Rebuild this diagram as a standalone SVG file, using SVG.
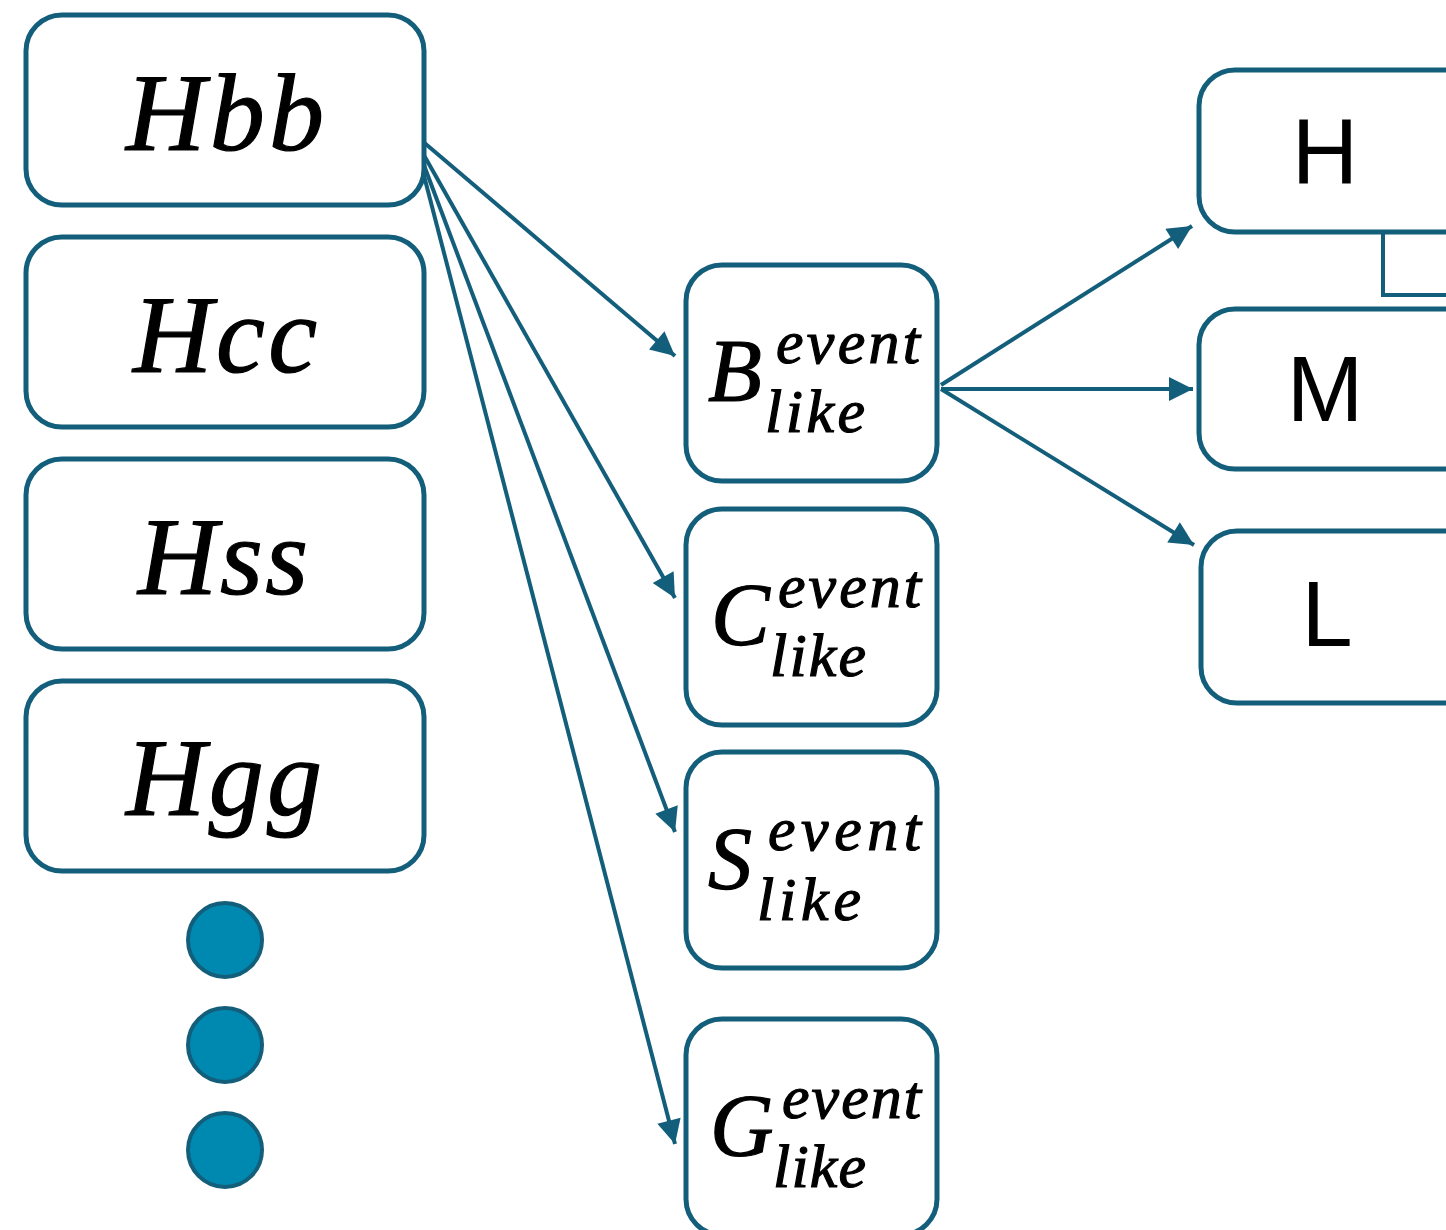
<svg xmlns="http://www.w3.org/2000/svg" width="1446" height="1230" viewBox="0 0 1446 1230">
  <defs>
    <marker id="arrow" viewBox="0 0 10 10" refX="10" refY="5" markerWidth="6.5" markerHeight="6" markerUnits="strokeWidth" orient="auto">
      <path d="M0,0 L10,5 L0,10 z" fill="#135e7a"/>
    </marker>
    <style>
      .box { fill: #ffffff; stroke: #135e7a; stroke-width: 5; }
      .dot { fill: #0089b0; stroke: #135e7a; stroke-width: 4; }
      .edge { fill: none; stroke: #135e7a; stroke-width: 4; }
      .math { font-family: "Liberation Serif", "Times New Roman", serif; font-style: italic; fill: #000; stroke: #000; stroke-width: 1.2; }
      .sans { font-family: "Liberation Sans", Arial, sans-serif; fill: #000; }
    </style>
  </defs>

  <!-- connectors -->
  <g id="connectors">
    <line class="edge" x1="421" y1="140" x2="675" y2="356" marker-end="url(#arrow)"/>
    <line class="edge" x1="421" y1="150" x2="675" y2="598" marker-end="url(#arrow)"/>
    <line class="edge" x1="422" y1="160" x2="675" y2="832" marker-end="url(#arrow)"/>
    <line class="edge" x1="422" y1="168" x2="675" y2="1144" marker-end="url(#arrow)"/>
    <line class="edge" x1="941" y1="385" x2="1192" y2="226" marker-end="url(#arrow)"/>
    <line class="edge" x1="941" y1="389" x2="1193" y2="389" marker-end="url(#arrow)"/>
    <line class="edge" x1="941" y1="389" x2="1194" y2="545" marker-end="url(#arrow)"/>
    <polyline class="edge" points="1383,232 1383,295 1446,295"/>
  </g>

  <!-- left column -->
  <g id="node-hbb">
    <rect class="box" x="26" y="15" width="398" height="190" rx="36"/>
    <text class="math" x="126" y="150" font-size="110" textLength="198" lengthAdjust="spacing">Hbb</text>
  </g>
  <g id="node-hcc">
    <rect class="box" x="26" y="237" width="398" height="190" rx="36"/>
    <text class="math" x="133" y="372" font-size="110" textLength="184" lengthAdjust="spacing">Hcc</text>
  </g>
  <g id="node-hss">
    <rect class="box" x="26" y="459" width="398" height="190" rx="36"/>
    <text class="math" x="138" y="594" font-size="110" textLength="170" lengthAdjust="spacing">Hss</text>
  </g>
  <g id="node-hgg">
    <rect class="box" x="26" y="681" width="398" height="190" rx="36"/>
    <text class="math" x="126" y="815" font-size="110" textLength="196" lengthAdjust="spacing">Hgg</text>
  </g>
  <g id="ellipsis">
    <circle class="dot" cx="225" cy="940" r="37"/>
    <circle class="dot" cx="225" cy="1045" r="37"/>
    <circle class="dot" cx="225" cy="1150" r="37"/>
  </g>

  <!-- middle column -->
  <g id="node-b">
    <rect class="box" x="686" y="265" width="251" height="216" rx="36"/>
    <text class="math" x="708" y="400" font-size="88">B</text>
    <text class="math" x="776" y="363" font-size="62" textLength="144" lengthAdjust="spacing">event</text>
    <text class="math" x="765" y="432" font-size="62" textLength="100" lengthAdjust="spacing">like</text>
  </g>
  <g id="node-c">
    <rect class="box" x="686" y="509" width="251" height="216" rx="36"/>
    <text class="math" x="711" y="644" font-size="88">C</text>
    <text class="math" x="778" y="607" font-size="62" textLength="143" lengthAdjust="spacing">event</text>
    <text class="math" x="770" y="676" font-size="62" textLength="96" lengthAdjust="spacing">like</text>
  </g>
  <g id="node-s">
    <rect class="box" x="686" y="752" width="251" height="216" rx="36"/>
    <text class="math" x="708" y="888" font-size="88">S</text>
    <text class="math" x="768" y="850" font-size="62" textLength="153" lengthAdjust="spacing">event</text>
    <text class="math" x="757" y="920" font-size="62" textLength="104" lengthAdjust="spacing">like</text>
  </g>
  <g id="node-g">
    <rect class="box" x="686" y="1019" width="251" height="216" rx="36"/>
    <text class="math" x="710" y="1155" font-size="88">G</text>
    <text class="math" x="782" y="1118" font-size="62" textLength="139" lengthAdjust="spacing">event</text>
    <text class="math" x="773" y="1187" font-size="62" textLength="93" lengthAdjust="spacing">like</text>
  </g>

  <!-- right column -->
  <g id="node-h">
    <rect class="box" x="1199" y="70" width="290" height="162" rx="36"/>
    <text class="sans" x="1325" y="184" font-size="92" text-anchor="middle">H</text>
  </g>
  <g id="node-m">
    <rect class="box" x="1199" y="309" width="290" height="160" rx="36"/>
    <text class="sans" x="1325" y="421" font-size="92" text-anchor="middle">M</text>
  </g>
  <g id="node-l">
    <rect class="box" x="1201" y="531" width="290" height="172" rx="36"/>
    <text class="sans" x="1327" y="646" font-size="92" text-anchor="middle">L</text>
  </g>
</svg>
